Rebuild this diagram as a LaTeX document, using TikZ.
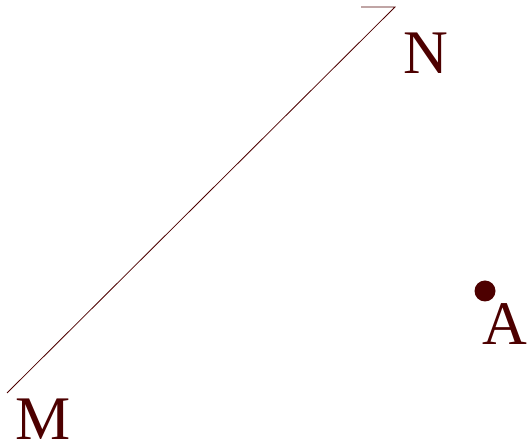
\documentclass[tikz,border=0pt]{standalone}
\usepackage{fontspec}
\setmainfont{Liberation Serif}
\definecolor{maroon}{RGB}{77,0,0}
\begin{document}
\begin{tikzpicture}[x=1pt,y=1pt,
  lbl/.style={inner sep=0pt,text=maroon,font=\fontsize{62}{62}\selectfont},
  seg/.style={draw=maroon,line width=0.8pt}]
\useasboundingbox (0,0) rectangle (528,447);
\coordinate (m) at (7,54);
\coordinate (n) at (395,440);
\coordinate (t) at (361,440);
\draw[seg] (m) -- (n) -- (t);
\fill[maroon] (485,156) circle (10.5) node (a) {};
\node[lbl] (lm) at (43.5,27.5) {M};
\node[lbl] (ln) at (425.5,393.5) {N};
\node[lbl] (la) at (505,123) {A};
\end{tikzpicture}
\end{document}
